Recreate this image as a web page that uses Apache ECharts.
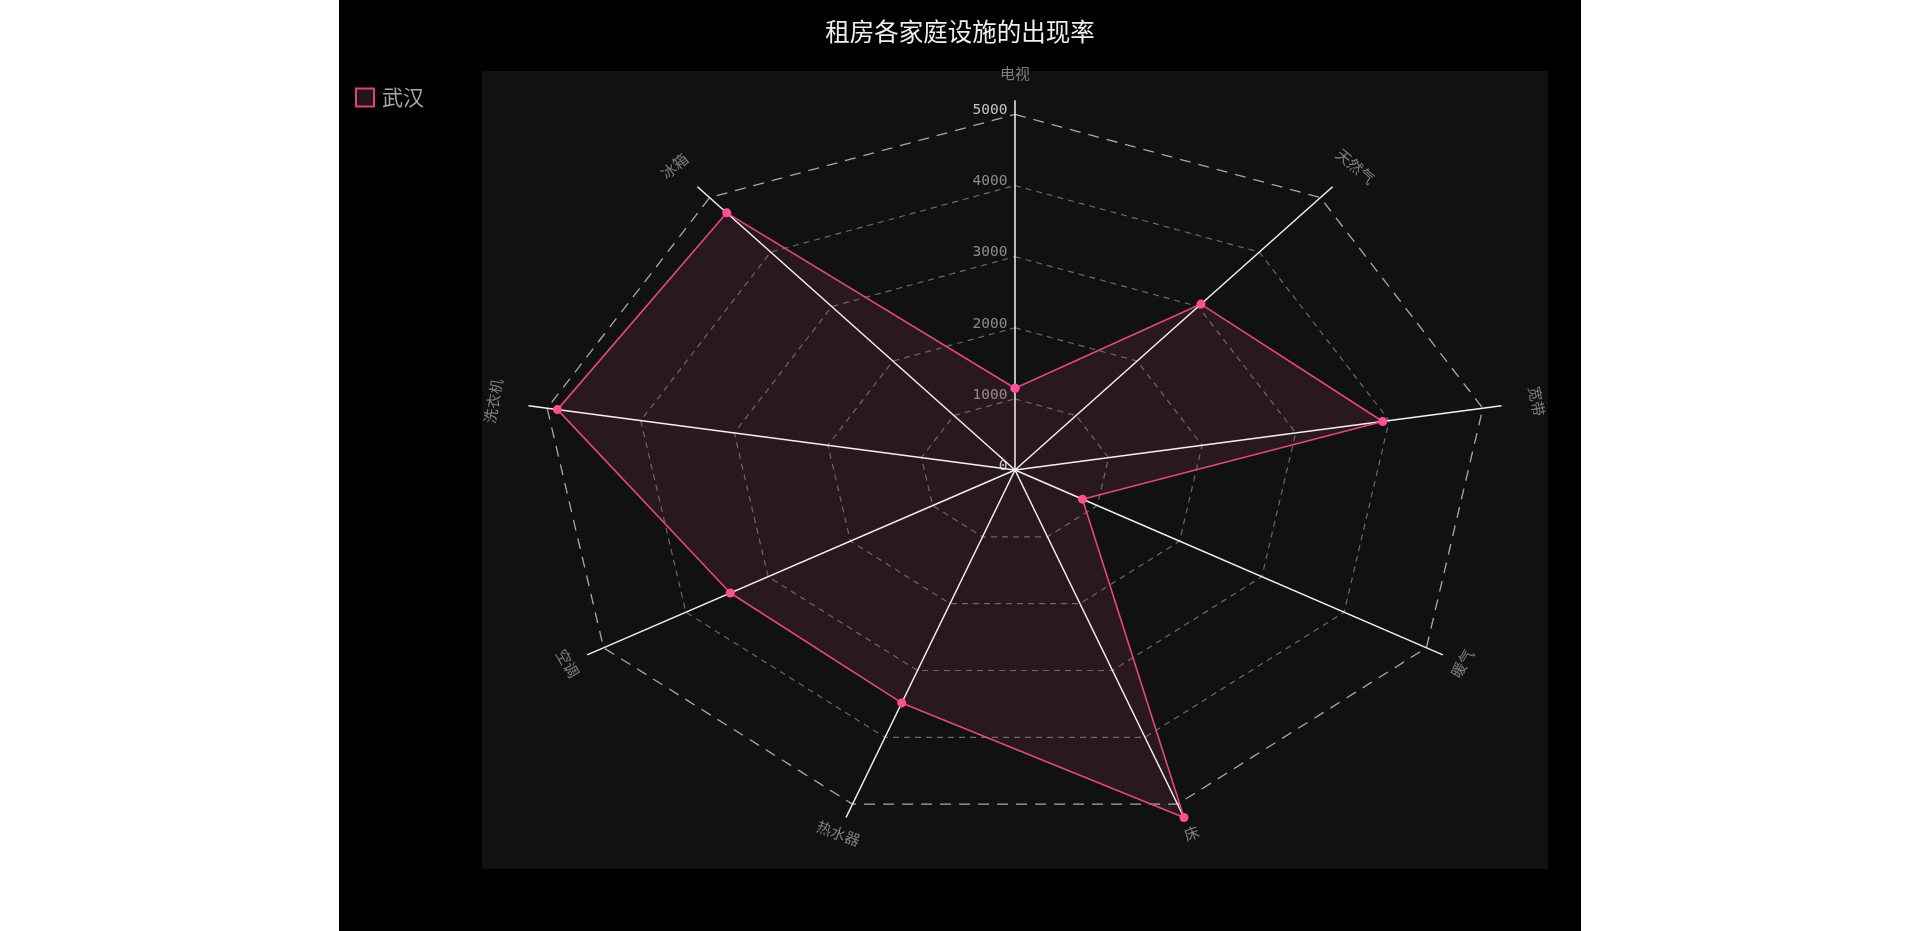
<!DOCTYPE html>
<html>
<head>
<meta charset="utf-8">
<script src="https://cdn.jsdelivr.net/npm/echarts@6/dist/echarts.min.js"></script>
<style>
html,body{margin:0;padding:0;background:#fff;width:1920px;height:931px;overflow:hidden;}
#chart{position:absolute;left:339px;top:0;width:1242px;height:931px;}
</style>
</head>
<body>
<div id="chart"></div>
<script>
// ---- data ----
const indicators = ['电视', '天然气', '宽带', '暖气', '床', '热水器', '空调', '洗衣机', '冰箱'];
const values = [1150, 3045, 3930, 820, 5200, 3485, 3460, 4890, 4720];
const seriesName = '武汉';
const ringLevels = [1000, 2000, 3000, 4000, 5000];
const tickValues = [0, 1000, 2000, 3000, 4000, 5000];
const tickLabels = ['0', '1000', '2000', '3000', '4000', '5000'];

// ---- helpers ----
const N = indicators.length;
const EXTENT = 5610;
function ang(i) { return i * 2 * Math.PI / N; }      // clockwise from top
function pt(v, i) { return [v * Math.sin(ang(i)), v * Math.cos(ang(i))]; }
function ring(v) { const a = []; for (let i = 0; i <= N; i++) a.push(pt(v, i % N)); return a; }
const spokeMax = Math.max(...values);

const series = [];

// filled area of data polygon
series.push({
  type: 'custom', silent: true, z: 1,
  data: [0],
  renderItem: function (params, api) {
    const pts = values.map((v, i) => api.coord(pt(v, i)));
    return { type: 'polygon', shape: { points: pts }, style: { fill: 'rgba(232,80,140,0.12)' } };
  }
});

// rings
ringLevels.forEach(function (lv, k) {
  const outer = k === ringLevels.length - 1;
  series.push({
    type: 'line', silent: true, z: 2, symbol: 'none',
    data: ring(lv),
    lineStyle: outer ? { color: '#a8a8a8', width: 1.3, type: [11, 8] } : { color: '#6a6a6a', width: 1.2, type: [6, 5] }
  });
});

// spokes
series.push({
  type: 'custom', silent: true, z: 3,
  data: indicators.map((_, i) => pt(spokeMax, i)),
  renderItem: function (params, api) {
    const c = api.coord([0, 0]);
    const e = api.coord([api.value(0), api.value(1)]);
    return { type: 'line', shape: { x1: c[0], y1: c[1], x2: e[0], y2: e[1] }, style: { stroke: '#f2f2f2', lineWidth: 1.5 } };
  }
});

// data line + points
const closed = values.map((v, i) => pt(v, i)); closed.push(pt(values[0], 0));
series.push({
  name: seriesName, type: 'line', z: 4,
  data: closed,
  symbol: 'circle', symbolSize: 9,
  lineStyle: { color: '#e2487f', width: 1.6 },
  itemStyle: { color: '#ff4f95' }
});

// tick labels
series.push({
  type: 'scatter', silent: true, z: 5, symbolSize: 1,
  itemStyle: { color: 'transparent' },
  data: tickValues.map((v, k) => ({
    value: [0, v],
    label: { color: (k === 0 || k === tickValues.length - 1) ? '#f0f0f0' : '#ababab' }
  })),
  label: {
    show: true, position: 'left', distance: 7, offset: [0, -4],
    fontFamily: 'DejaVu Sans Mono', fontSize: 14.5,
    formatter: function (p) { return tickLabels[p.dataIndex]; }
  }
});

// indicator labels
series.push({
  type: 'scatter', silent: true, z: 5, symbolSize: 1,
  itemStyle: { color: 'transparent' },
  data: indicators.map(function (name, i) {
    const deg = i * 360 / N;
    const upper = (deg <= 90 || deg >= 270);
    const vis = upper ? (deg > 180 ? deg - 360 : deg) : deg - 180;
    const r = upper ? 5575 : 5437;
    return { value: pt(r, i), label: { rotate: -vis } };
  }),
  label: {
    show: true, position: 'inside', color: '#9a9a9a',
    fontFamily: 'Noto Sans CJK SC', fontSize: 15,
    formatter: function (p) { return indicators[p.dataIndex]; }
  }
});

const chart = echarts.init(document.getElementById('chart'));
chart.setOption({
  backgroundColor: '#000',
  animation: false,
  title: {
    text: '租房各家庭设施的出现率', left: 'center', top: 14,
    textStyle: { color: '#eeeeee', fontSize: 24.5, fontWeight: 'normal', fontFamily: 'Noto Sans CJK SC' }
  },
  legend: {
    left: 16, top: 87, padding: 0, itemWidth: 18, itemHeight: 18, itemGap: 10,
    data: [{ name: seriesName, icon: 'rect', itemStyle: { color: '#24141b', borderColor: '#d6457d', borderWidth: 2 } }],
    textStyle: { color: '#a8a8a8', fontSize: 21, fontFamily: 'Noto Sans CJK SC', padding: [0, 0, 0, 3] },
    selectedMode: false
  },
  grid: { left: 143, top: 71, width: 1066, height: 798, show: true, backgroundColor: '#111111', borderWidth: 0 },
  xAxis: { type: 'value', min: -EXTENT, max: EXTENT, show: false, splitLine: { show: false } },
  yAxis: { type: 'value', min: -EXTENT, max: EXTENT, show: false, splitLine: { show: false } },
  series: series
});
</script>
</body>
</html>
